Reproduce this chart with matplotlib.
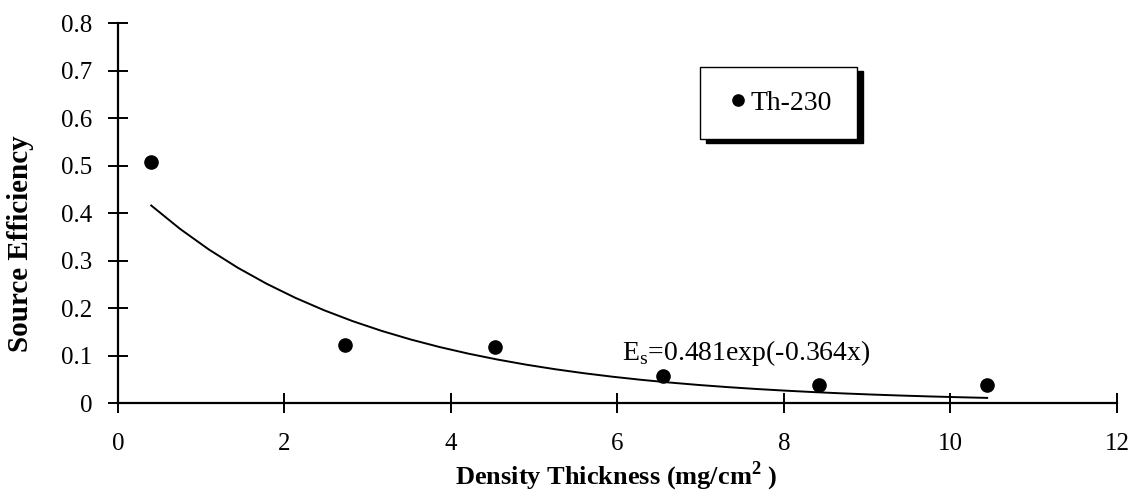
import numpy as np
import matplotlib
matplotlib.use("Agg")
import matplotlib.pyplot as plt
from matplotlib.patches import Rectangle

# measured source efficiency vs. density thickness (Th-230)
thickness = [0.40, 2.73, 4.53, 6.55, 8.42, 10.44]
efficiency = [0.508, 0.122, 0.118, 0.057, 0.037, 0.037]

# exponential fit  Es = a*exp(b*x)
fit_a = 0.481
fit_b = -0.364

xticks = [0, 2, 4, 6, 8, 10, 12]
yticks = [0, 0.1, 0.2, 0.3, 0.4, 0.5, 0.6, 0.7, 0.8]

plt.rcParams['font.family'] = ['Liberation Serif', 'DejaVu Serif']

fig = plt.figure(figsize=(11.34, 4.96), dpi=100)
ax = fig.add_axes([0.104, 0.1875, 0.881, 0.766])

xfit = np.linspace(thickness[0], thickness[-1], 30)
ax.plot(xfit, fit_a * np.exp(fit_b * xfit), color='black', lw=1.4)
ax.plot(thickness, efficiency, 'o', color='black', ms=9.5, label='Th-230',
        clip_on=False, zorder=3)

ax.set_xlim(0, 12)
ax.set_ylim(0, 0.8)
ax.set_xticks(xticks)
ax.set_yticks(yticks)
ax.set_xticklabels([str(t) for t in xticks])
ax.set_yticklabels(['0' if t == 0 else f'{t:.1f}' for t in yticks])

for s in ['top', 'right']:
    ax.spines[s].set_visible(False)
for s in ['left', 'bottom']:
    ax.spines[s].set_linewidth(1.6)
ax.tick_params(axis='both', direction='inout', length=14.5, width=1.4,
               labelsize=18)
ax.tick_params(axis='x', pad=14)
ax.tick_params(axis='y', pad=11)

ax.set_xlabel('Density Thickness (mg/cm$^{\\mathregular{2}}$ )',
              fontsize=19, fontweight='bold')
ax.set_ylabel('Source Efficiency', fontsize=21, fontweight='bold')
ax.xaxis.set_label_coords(0.4985, -0.15)
ax.yaxis.set_label_coords(-0.084, 0.42)

ax.text(6.05, 0.105, 'E$_{\\mathregular{s}}$=0.481exp(-0.364x)',
        fontsize=20, va='center', ha='left')

# legend box with a solid drop shadow
bx, by, bw, bh = 0.5826, 0.695, 0.157, 0.189
ax.add_patch(Rectangle((bx + 0.006, by - 0.0105), bw, bh,
                       transform=ax.transAxes, facecolor='black',
                       edgecolor='black', clip_on=False, zorder=4))
ax.add_patch(Rectangle((bx, by), bw, bh, transform=ax.transAxes,
                       facecolor='white', edgecolor='black', lw=1.0,
                       clip_on=False, zorder=5))
leg = ax.legend(loc='center left', bbox_to_anchor=(0.5986, by + bh / 2),
                frameon=False, fontsize=20, handlelength=0.6, borderpad=0,
                handletextpad=0.15, markerscale=0.85)
leg.set_zorder(6)

fig.savefig('out.png', dpi=100)
